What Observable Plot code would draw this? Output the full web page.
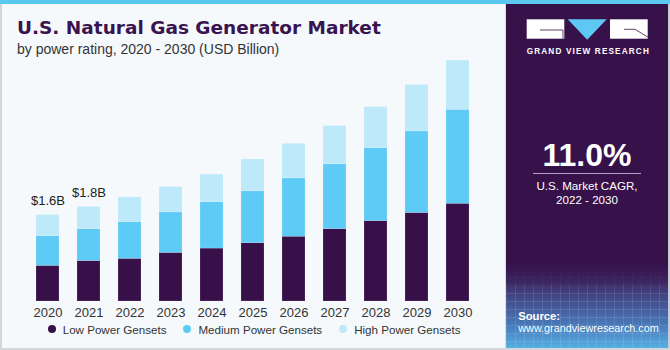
<!DOCTYPE html>
<html>
<head>
<meta charset="utf-8">
<script src="https://cdn.jsdelivr.net/npm/d3@7"></script>
<script src="https://cdn.jsdelivr.net/npm/@observablehq/plot@0.6"></script>
<style>
  html, body { margin: 0; padding: 0; background: #f5f9fc; }
  #wrap { position: relative; width: 670px; height: 350px; background: #f5f9fc; overflow: hidden;
          font-family: "Liberation Sans", Arial, sans-serif; }
  .abs { position: absolute; white-space: nowrap; line-height: 1; }
  #title { left: 17px; top: 19.3px; font-family: "DejaVu Sans", sans-serif; font-weight: bold; font-size: 18.5px; color: #3a1450; }
  #subtitle { left: 17px; top: 42.2px; font-size: 14px; color: #333; }
  #chart { position: absolute; left: 0; top: 55px; }
  #legend { position: absolute; left: 47.7px; top: 323.7px; display: flex; gap: 17px; font-size: 11.6px; color: #333; line-height: 1; }
  #legend .item { display: flex; align-items: center; white-space: nowrap; }
  #legend .dot { width: 8px; height: 8px; border-radius: 50%; margin-right: 7px; }
  #panel { position: absolute; left: 506px; top: 0; width: 164px; height: 350px; background: #37114a; }
  #panelfoot { position: absolute; left: 0; top: 262px; width: 164px; height: 88px;
     background:
       repeating-linear-gradient(90deg, rgba(255,255,255,0.10) 0 1px, transparent 1px 9px),
       repeating-linear-gradient(0deg, rgba(255,255,255,0.10) 0 1px, transparent 1px 8px),
       linear-gradient(#37114a 0%, #3d2a66 22%, #44508e 45%, #4a7fbf 75%, #58b4e6 100%); }
  #panelfade { position: absolute; left: 0; top: 262px; width: 164px; height: 24px; background: linear-gradient(#37114a, rgba(61,42,102,0.6)); }
  .ptext { position: absolute; color: #fff; white-space: nowrap; line-height: 1; }
</style>
</head>
<body>
<div id="wrap">
  <div class="abs" id="title">U.S. Natural Gas Generator Market</div>
  <div class="abs" id="subtitle">by power rating, 2020 - 2030 (USD Billion)</div>
  <div id="chart"></div>
  <div id="legend"></div>

  <div id="panel">
    <div id="panelfoot"></div>
    <div id="panelfade"></div>
    <svg style="position:absolute;left:0;top:0" width="164" height="60">
      <rect x="20.7" y="19.3" width="37.6" height="19.4" fill="#ffffff"/>
      <path d="M34 30 H57 V38.7" fill="none" stroke="#37114a" stroke-width="0.8"/>
      <polygon points="61.7,19.3 100.7,19.3 81.2,39.7" fill="#5ec8f4"/>
      <rect x="104" y="19.3" width="37.7" height="19.4" fill="#ffffff"/>
      <path d="M118 29.3 H129 L141.7 37" fill="none" stroke="#37114a" stroke-width="0.8"/>
    </svg>
    <div class="ptext" style="left:20.7px;top:47.5px;width:121px;text-align:center;font-weight:bold;font-size:8.2px;letter-spacing:1.15px;">GRAND VIEW RESEARCH</div>
    <div class="ptext" style="left:0;width:162px;text-align:center;top:138.6px;font-weight:bold;font-size:32px;">11.0%</div>
    <div style="position:absolute;left:27px;top:172.8px;width:108px;height:1px;background:#b3a3c3;"></div>
    <div class="ptext" style="left:0;width:162px;text-align:center;top:179.5px;font-size:11.6px;">U.S. Market CAGR,</div>
    <div class="ptext" style="left:0;width:162px;text-align:center;top:193.5px;font-size:11.6px;">2022 - 2030</div>
    <div class="ptext" style="left:12.3px;top:310.7px;font-weight:bold;font-size:11.2px;">Source:</div>
    <div class="ptext" style="left:12.3px;top:323px;font-size:10.8px;">www.grandviewresearch.com</div>
  </div>

  <div style="position:absolute;left:0;top:0;width:670px;height:4px;background:#5bc8f0;"></div>
  <div style="position:absolute;left:0;top:4px;width:2px;height:346px;background:#d3d7da;"></div>
  <div style="position:absolute;left:0;top:348px;width:670px;height:2px;background:#d3d7da;"></div>
  <div style="position:absolute;left:505px;top:4px;width:1px;height:344px;background:#d8dce0;"></div>
  <div style="position:absolute;left:668px;top:4px;width:2px;height:344px;background:#c9ccd6;"></div>
</div>

<script>
// ---- Data (USD Billion) ----
const years = ["2020","2021","2022","2023","2024","2025","2026","2027","2028","2029","2030"];
const lowPower    = [0.66, 0.75, 0.79, 0.90, 0.98, 1.08, 1.20, 1.34, 1.49, 1.64, 1.81];
const mediumPower = [0.55, 0.59, 0.68, 0.75, 0.86, 0.96, 1.08, 1.20, 1.35, 1.51, 1.74];
const highPower   = [0.39, 0.41, 0.46, 0.47, 0.51, 0.59, 0.64, 0.71, 0.76, 0.86, 0.91];
const seriesNames = ["Low Power Gensets", "Medium Power Gensets", "High Power Gensets"];
const seriesColors = ["#37104a", "#5ecbf6", "#bee9fa"];
const labelYears = ["2020", "2021"];
const labelTexts = ["$1.6B", "$1.8B"];

const seriesValues = [lowPower, mediumPower, highPower];
const rows = years.flatMap((yr, i) =>
  seriesNames.map((s, k) => ({year: yr, series: s, value: seriesValues[k][i]})));
const totals = years.map((yr, i) => lowPower[i] + mediumPower[i] + highPower[i]);
const labels = labelYears.map((yr, j) => ({year: yr, total: totals[years.indexOf(yr)], text: labelTexts[j]}));

const chart = Plot.plot({
  width: 505,
  height: 265,
  marginTop: 3,
  marginBottom: 19,
  marginLeft: 13,
  marginRight: 13,
  style: {background: "transparent", fontFamily: "Liberation Sans, Arial, sans-serif", fontSize: "13px", color: "#333"},
  x: {domain: years, padding: 0.43, label: null, tickSize: 0, tickPadding: 6},
  y: {domain: [0, 4.5], axis: null},
  color: {domain: seriesNames, range: seriesColors},
  marks: [
    Plot.barY(rows, {x: "year", y: "value", fill: "series", stroke: "#ffffff", strokeWidth: 0.5, strokeOpacity: 0.3}),
    Plot.text(labels, {x: "year", y: "total", text: "text", dy: -10, lineAnchor: "bottom", fontSize: 13, fill: "#222"})
  ]
});
document.getElementById("chart").appendChild(chart);

const legend = document.getElementById("legend");
seriesNames.forEach((s, k) => {
  const item = document.createElement("div");
  item.className = "item";
  const dot = document.createElement("span");
  dot.className = "dot";
  dot.style.background = seriesColors[k];
  const label = document.createElement("span");
  label.textContent = s;
  item.appendChild(dot);
  item.appendChild(label);
  legend.appendChild(item);
});
</script>
</body>
</html>
